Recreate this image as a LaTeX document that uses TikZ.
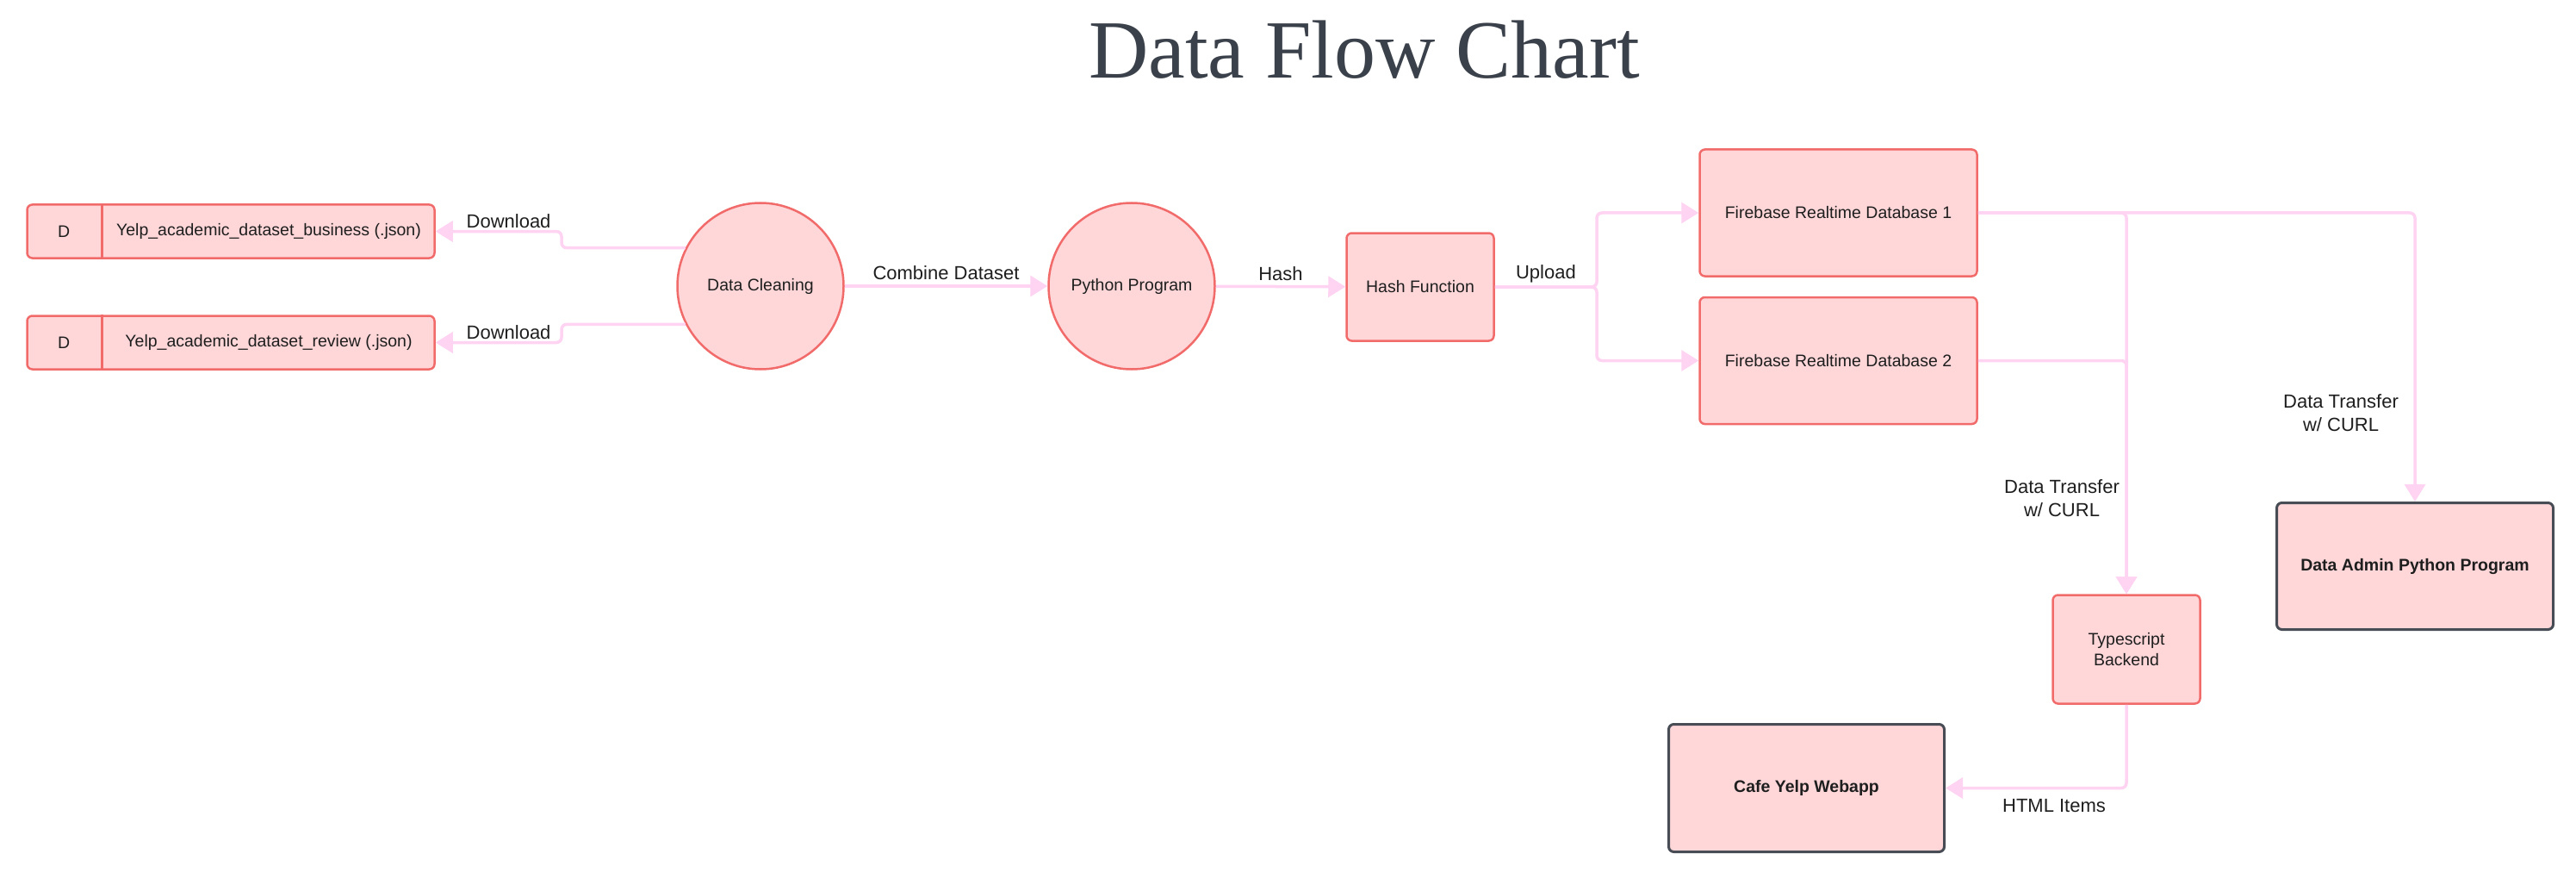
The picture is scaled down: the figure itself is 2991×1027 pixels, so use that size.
\documentclass[tikz,border=0pt]{standalone}
\usepackage{fontspec}
\setmainfont{Liberation Sans}
\newfontfamily\titlefont{Liberation Serif}
\usetikzlibrary{arrows.meta,calc}
\definecolor{boxfill}{HTML}{FFD7D9}
\definecolor{boxdraw}{HTML}{F26B6B}
\definecolor{darkdraw}{HTML}{474C55}
\definecolor{flowcol}{HTML}{FFD3F2}
\definecolor{txt}{HTML}{1E1E1E}
\definecolor{titlecol}{HTML}{3B414A}
\begin{document}
\begin{tikzpicture}[x=1pt,y=-1pt,
  nodefont/.style={font=\fontsize{19.5pt}{23.5pt}\selectfont},
  proc/.style={draw=boxdraw, line width=2.5pt, fill=boxfill, rounded corners=6pt, inner sep=0pt, text=txt, nodefont, align=center},
  circ/.style={circle, draw=boxdraw, line width=2.5pt, fill=boxfill, inner sep=0pt, minimum size=193pt, text=txt, nodefont},
  ext/.style={proc, draw=darkdraw, line width=3pt, font=\fontsize{19.5pt}{23.5pt}\selectfont\bfseries},
  flow/.style={draw=flowcol, line width=3.5pt, rounded corners=6pt, -{Triangle[length=20pt,width=24pt]}},
  elabel/.style={text=txt, font=\fontsize{22pt}{27pt}\selectfont, align=center, inner sep=0pt},
  plain/.style={text=txt, nodefont, inner sep=0pt}
]
\path[use as bounding box] (0,0) rectangle (2991,1027);

\node[text=titlecol, font=\titlefont\fontsize{96pt}{108pt}\selectfont, inner sep=0pt] (title) at (1584,58) {Data Flow Chart};

% data stores
\node[proc, minimum width=473pt, minimum height=62pt] (y1) at (268,268.5) {};
\node[proc, minimum width=473pt, minimum height=62pt] (y2) at (268,397.5) {};
\draw[draw=boxdraw, line width=2.5pt] ([xshift=88pt]y1.north west) -- ([xshift=88pt]y1.south west);
\draw[draw=boxdraw, line width=2.5pt] ([xshift=88pt]y2.north west) -- ([xshift=88pt]y2.south west);
\node[plain] (y1d) at ($(y1.west)+(44,0)$) {D};
\node[plain] (y2d) at ($(y2.west)+(44,0)$) {D};
\node[plain] (y1t) at ($(y1.east)!0.5!([xshift=88pt]y1.west)$) {Yelp\_academic\_dataset\_business (.json)};
\node[plain] (y2t) at ($(y2.east)!0.5!([xshift=88pt]y2.west)$) {Yelp\_academic\_dataset\_review (.json)};

% processes
\node[circ] (dc) at (883,332) {Data Cleaning};
\node[circ] (pp) at (1314,332) {Python Program};
\node[proc, minimum width=171pt, minimum height=125pt] (hf) at (1649,333) {Hash Function};
\node[proc, minimum width=322pt, minimum height=147pt] (fb1) at (2134.5,247) {Firebase Realtime Database 1};
\node[proc, minimum width=322pt, minimum height=147pt] (fb2) at (2134.5,418.5) {Firebase Realtime Database 2};
\node[proc, minimum width=171pt, minimum height=126pt] (tb) at (2469,753.5) {Typescript\\Backend};
\node[ext, minimum width=321pt, minimum height=147pt] (da) at (2804,657) {Data Admin Python Program};
\node[ext, minimum width=320pt, minimum height=148pt] (cy) at (2097.5,914.5) {Cafe Yelp Webapp};

% helper coordinates
\coordinate (dk) at (652,0);
\coordinate (uk) at (1854,0);

% connectors
\draw[flow] (dc.153) -- (dc.153 -| dk) |- (y1.east) node[elabel, pos=0.71, yshift=12pt] {Download};
\draw[flow] (dc.207) -- (dc.207 -| dk) |- (y2.east) node[elabel, pos=0.71, yshift=12pt] {Download};
\draw[flow] (dc) -- (pp) node[elabel, midway, yshift=15pt] {Combine Dataset};
\draw[flow] (pp) -- (hf) node[elabel, midway, yshift=15pt] {Hash};
\draw[flow] (hf.east) -- (hf.east -| uk) node[elabel, midway, yshift=15pt] {Upload} |- (fb1.west);
\draw[flow] (hf.east) -- (hf.east -| uk) |- (fb2.west);
\draw[flow] (fb1.east) -| (da.north) node[elabel, pos=0.847, xshift=-86pt] {Data Transfer\\w/ CURL};
\draw[flow] (fb1.east) -| (tb.north);
\draw[flow] (fb2.east) -| (tb.north) node[elabel, pos=0.795, xshift=-75pt] {Data Transfer\\w/ CURL};
\draw[flow] (tb.south) |- (cy.east) node[elabel, pos=0.70, yshift=-21pt] {HTML Items};
\end{tikzpicture}
\end{document}
